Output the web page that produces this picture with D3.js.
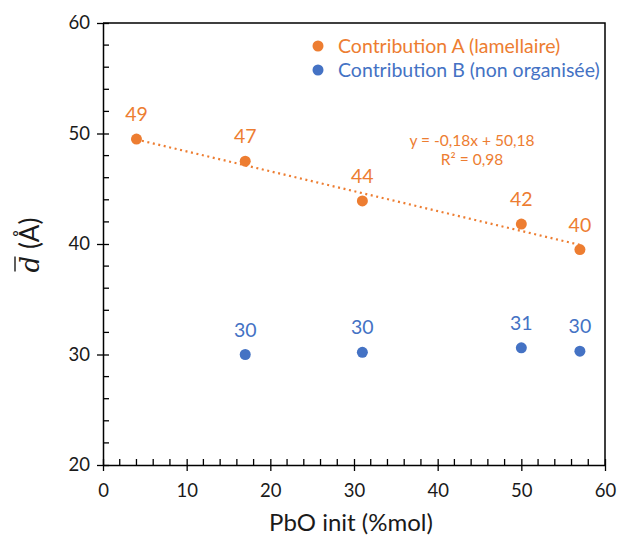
<!DOCTYPE html>
<html><head><meta charset="utf-8">
<script src="https://cdn.jsdelivr.net/npm/d3@7"></script>
<style>body{margin:0;background:#fff}svg{display:block}text{font-family:Lato,"Open Sans",sans-serif}</style>
</head><body><svg id="c" width="618" height="539"></svg>
<script>
const seriesNames = ["Contribution A (lamellaire)", "Contribution B (non organisée)"];
const xA = [4, 17, 31, 50, 57];
const yA = [49.5, 47.5, 43.9, 41.8, 39.5];
const labelsA = ["49", "47", "44", "42", "40"];
const xB = [17, 31, 50, 57];
const yB = [30.0, 30.2, 30.6, 30.3];
const labelsB = ["30", "30", "31", "30"];
const trendA = {slope: -0.18, intercept: 50.18, x0: 4, x1: 57};
const trendText = ["y = -0,18x + 50,18", "R² = 0,98"];
const xTicks = [0, 10, 20, 30, 40, 50, 60];
const yTicks = [20, 30, 40, 50, 60];
const xTitle = "PbO init (%mol)";

const orange = "#ED7D31", blue = "#4472C4", ink = "#1a1a1a";
const svg = d3.select("#c");
const x = d3.scaleLinear().domain([0, 60]).range([103, 605]);
const y = d3.scaleLinear().domain([20, 60]).range([465, 23]);

// frame (top & right)
svg.append("path").attr("d", `M${x(0)},${y(60)}H${x(60)}V${y(20)}`).attr("fill","none").attr("stroke","#000").attr("stroke-width",1.5);

// minor ticks
const xMinor = d3.range(0, 61, 2).filter(v => v % 10 !== 0);
const yMinor = d3.range(20, 61, 2).filter(v => v % 10 !== 0);
svg.append("g").selectAll("line").data(xMinor).join("line")
  .attr("x1", d => x(d)).attr("x2", d => x(d)).attr("y1", y(20)).attr("y2", y(20) - 6)
  .attr("stroke", "#000").attr("stroke-width", 1.3);
svg.append("g").selectAll("line").data(yMinor).join("line")
  .attr("y1", d => y(d)).attr("y2", d => y(d)).attr("x1", x(0)).attr("x2", x(0) + 6)
  .attr("stroke", "#000").attr("stroke-width", 1.3);

// axes
const gx = svg.append("g").attr("transform", `translate(0,${y(20)})`)
  .call(d3.axisBottom(x).tickValues(xTicks).tickSize(6).tickSizeOuter(0).tickPadding(13));
gx.selectAll(".tick line").attr("y1", -6);
const gy = svg.append("g").attr("transform", `translate(${x(0)},0)`)
  .call(d3.axisLeft(y).tickValues(yTicks).tickSize(6).tickSizeOuter(0).tickPadding(7));
gy.selectAll(".tick line").attr("x1", 6);
[gx, gy].forEach(g => {
  g.select(".domain").attr("stroke", "#000").attr("stroke-width", 1.5);
  g.selectAll(".tick line").attr("stroke", "#000").attr("stroke-width", 1.3);
  g.selectAll(".tick text").attr("font-size", 18.5).attr("fill", ink).attr("font-family", "Lato");
});

// trend line
svg.append("line")
  .attr("x1", x(trendA.x0)).attr("y1", y(trendA.slope * trendA.x0 + trendA.intercept))
  .attr("x2", x(trendA.x1)).attr("y2", y(trendA.slope * trendA.x1 + trendA.intercept))
  .attr("stroke", orange).attr("stroke-width", 2.2).attr("stroke-dasharray", "2,3.6");

// points
function drawSeries(xs, ys, labels, color) {
  const data = xs.map((v, i) => ({x: v, y: ys[i], l: labels[i]}));
  svg.append("g").selectAll("circle").data(data).join("circle")
    .attr("cx", d => x(d.x)).attr("cy", d => y(d.y)).attr("r", 5.5).attr("fill", color);
  svg.append("g").selectAll("text").data(data).join("text")
    .attr("x", d => x(d.x)).attr("y", d => y(d.y) - 18).attr("text-anchor", "middle")
    .attr("font-size", 19.5).attr("fill", color).text(d => d.l);
}
drawSeries(xA, yA, labelsA, orange);
drawSeries(xB, yB, labelsB, blue);

// equation
svg.append("g").selectAll("text").data(trendText).join("text")
  .attr("x", 472).attr("y", (d, i) => 146 + i * 19).attr("text-anchor", "middle")
  .attr("font-size", 15.5).attr("fill", orange).text(d => d);

// legend
const leg = svg.append("g");
[orange, blue].forEach((c, i) => {
  leg.append("circle").attr("cx", 318).attr("cy", 46 + i * 24).attr("r", 5.5).attr("fill", c);
  leg.append("text").attr("x", 338).attr("y", 53 + i * 24).attr("font-size", 19.5).attr("fill", c).text(seriesNames[i]);
});

// axis titles
svg.append("text").attr("x", 351).attr("y", 531).attr("text-anchor", "middle")
  .attr("font-size", 24).attr("fill", ink).text(xTitle);
const yt = svg.append("g").attr("transform", "translate(39,245) rotate(-90)");
const t = yt.append("text").attr("text-anchor", "middle").attr("font-size", 26).attr("fill", ink);
t.append("tspan").attr("font-family", "DejaVu Serif").attr("font-style", "italic").text("d");
t.append("tspan").text(" (Å)");
const bb = t.node().getBBox();
yt.append("line").attr("x1", bb.x + 1).attr("x2", bb.x + 16).attr("y1", bb.y + 2).attr("y2", bb.y + 2)
  .attr("stroke", ink).attr("stroke-width", 1.4);
</script></body></html>
